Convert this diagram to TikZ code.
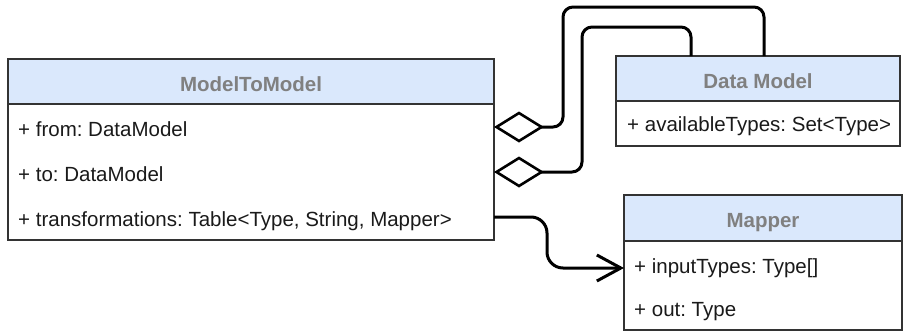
\documentclass[tikz,border=0pt]{standalone}
\usepackage{fontspec}
\setmainfont{Liberation Sans}
\usetikzlibrary{arrows.meta}
\definecolor{hdrfill}{HTML}{DAE8FC}
\definecolor{boxline}{HTML}{333333}
\definecolor{titlegray}{HTML}{808080}
\definecolor{txt}{HTML}{1A1A1A}
\frenchspacing

\begin{document}
\begin{tikzpicture}[x=1pt,y=-1pt,
  classhead/.style={draw=boxline, line width=2pt, fill=hdrfill, anchor=north west,
    inner sep=0pt, outer sep=0pt},
  classbody/.style={draw=boxline, line width=2pt, fill=white, anchor=north west,
    inner sep=0pt, outer sep=0pt},
  classtitle/.style={anchor=base, inner sep=0pt, text=titlegray,
    font=\fontsize{20.5}{24}\selectfont\bfseries},
  attr/.style={anchor=base west, inner sep=0pt, text=txt,
    font=\fontsize{20.5}{24}\selectfont},
  conn/.style={draw=black, line width=3pt},
  aggtip/.style={{Diamond[open, length=50pt, width=31pt, line width=2.6pt]}-},
  navtip/.style={-{Straight Barb[length=24pt, width=26pt]}}]

\useasboundingbox (0,0) rectangle (903,333);

% ModelToModel class
\node[classhead, minimum width=486pt, minimum height=45pt] (m2mHead) at (8,59) {};
\node[classbody, minimum width=486pt, minimum height=136pt] (m2mBody) at (8,104) {};
\node[classtitle] (m2mTitle) at (251,91.5) {ModelToModel};
\node[attr] (m2mFrom) at (18,136) {+ from: DataModel};
\node[attr] (m2mTo) at (18,181) {+ to: DataModel};
\node[attr] (m2mTrans) at (18,226) {+ transformations: Table<Type, String, Mapper>};

% Data Model class
\node[classhead, minimum width=284pt, minimum height=45pt] (dmHead) at (616,56) {};
\node[classbody, minimum width=284pt, minimum height=45pt] (dmBody) at (616,101) {};
\node[classtitle] (dmTitle) at (758,88) {Data Model};
\node[attr] (dmTypes) at (627,131.5) {+ availableTypes: Set<Type>};

% Mapper class
\node[classhead, minimum width=278pt, minimum height=46pt] (mapHead) at (624,195) {};
\node[classbody, minimum width=278pt, minimum height=89pt] (mapBody) at (624,241) {};
\node[classtitle] (mapTitle) at (763,227.5) {Mapper};
\node[attr] (mapIn) at (634,273) {+ inputTypes: Type[]};
\node[attr] (mapOut) at (634,316.5) {+ out: Type};

% aggregations towards Data Model
\draw[conn, aggtip, rounded corners=10pt]
  ([yshift=-23pt]m2mBody.north east) -| (563,7) -| ([xshift=148pt]dmHead.north west);
\draw[conn, aggtip, rounded corners=10pt]
  ([yshift=-68pt]m2mBody.north east) -| (582,27) -| ([xshift=75pt]dmHead.north west);

% association towards Mapper
\draw[conn, navtip, rounded corners=16pt]
  ([yshift=-113pt]m2mBody.north east) -| (547,268) -- ([yshift=-27pt]mapBody.north west);
\end{tikzpicture}
\end{document}
